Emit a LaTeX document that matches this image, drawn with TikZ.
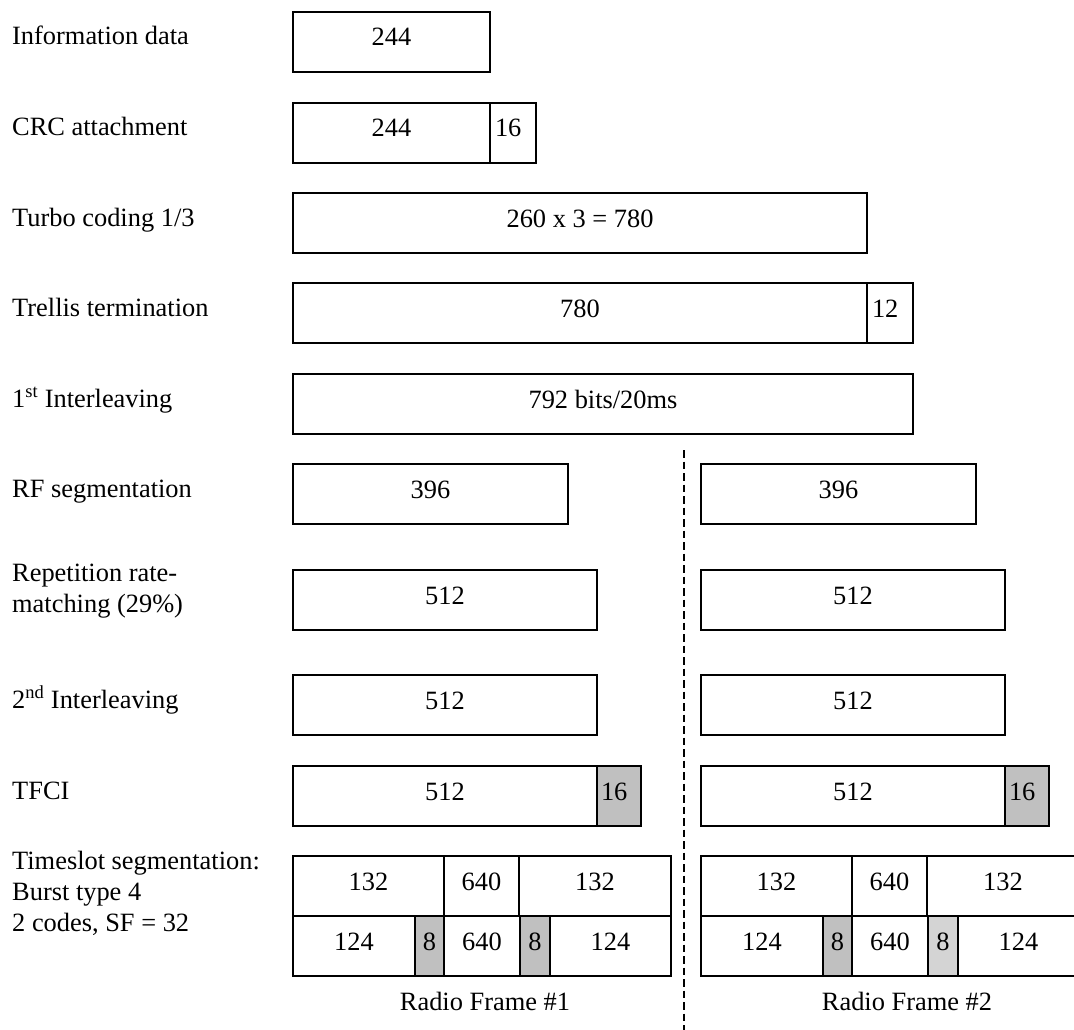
\documentclass[tikz,border=0pt]{standalone}
\usepackage{fontspec}
\setmainfont{Liberation Serif}
\usepackage{tikz}
\usetikzlibrary{positioning}
\definecolor{slotgray}{RGB}{192,192,192}
\definecolor{slotlight}{RGB}{212,212,212}

\begin{document}
\begin{tikzpicture}[
  x=1pt, y=-1pt,
  font=\fontsize{26.4}{31}\selectfont,
  lbl/.style={anchor=base west, inner sep=0pt},
  lbl2/.style={anchor=west, align=left, inner sep=0pt},
  blk/.style={draw, line width=1.8pt, rectangle, inner sep=0pt, outer sep=0pt,
    minimum height=60pt, anchor=north west, text height=18pt, text depth=10pt},
  nar/.style={text width=36pt, align=left},
  code/.style={blk, fill=slotgray},
  divider/.style={line width=1.8pt, dash pattern=on 7.5pt off 4pt}
]
\useasboundingbox (0,0) rectangle (1074,1030);
\clip (0,0) rectangle (1074,1030);

% Step labels
\node[lbl] (l-info) at (12,45)  {Information data};
\node[lbl] (l-crc)  at (12,136) {CRC attachment};
\node[lbl] (l-tc)   at (12,226) {Turbo coding 1/3};
\node[lbl] (l-tt)   at (12,316) {Trellis termination};
\node[lbl] (l-il1)  at (12,407) {1\textsuperscript{st} Interleaving};
\node[lbl] (l-rf)   at (12,497) {RF segmentation};
\node[lbl2] (l-rep) at (12,591) {Repetition rate-\\matching (29\%)};
\node[lbl] (l-il2)  at (12,708) {2\textsuperscript{nd} Interleaving};
\node[lbl] (l-tfci) at (12,799) {TFCI};
\node[lbl2] (l-ts)  at (12,893) {Timeslot segmentation:\\Burst type 4\\2 codes, SF = 32};

% Blocks before segmentation
\node[blk, minimum width=197pt] (info) at (293,12) {244};
\node[blk, minimum width=197pt] (crc) at (293,103) {244};
\node[blk, nar, minimum width=46pt, right=0pt of crc] (crcbits) {16};
\node[blk, minimum width=574pt] (tc) at (293,193) {260 x 3 = 780};
\node[blk, minimum width=574pt] (tt) at (293,283) {780};
\node[blk, nar, minimum width=46pt, right=0pt of tt] (tail) {12};
\node[blk, minimum width=620pt] (il) at (293,374) {792 bits/20ms};

% Frame border
\coordinate (divtop) at (684,450);
\coordinate (divbot) at (684,1030);
\draw[divider] (divtop) -- (divbot);

% Radio frames
\foreach \dx/\fr/\tint/\lx in {0/1/slotgray/485, 408/2/slotlight/907} {
  \node[blk, minimum width=275pt] (rf\fr) at (293+\dx,464) {396};
  \node[blk, minimum width=304pt] (rep\fr) at (293+\dx,570) {512};
  \node[blk, minimum width=304pt] (il\fr) at (293+\dx,675) {512};
  \node[blk, minimum width=304pt] (tf\fr) at (293+\dx,766) {512};
  \node[code, nar, minimum width=44pt, right=0pt of tf\fr] (tfci\fr) {16};
  % timeslots
  \node[blk, minimum width=151pt] (ta\fr) at (293+\dx,856) {132};
  \node[blk, minimum width=75pt, right=0pt of ta\fr] (tb\fr) {640};
  \node[blk, minimum width=152pt, right=0pt of tb\fr] (tc\fr) {132};
  \node[blk, minimum width=122pt] (ba\fr) at (ta\fr.south west) {124};
  \node[code, minimum width=29pt, right=0pt of ba\fr] (bb\fr) {8};
  \node[blk, minimum width=76pt, right=0pt of bb\fr] (bc\fr) {640};
  \node[code, fill=\tint, minimum width=30pt, right=0pt of bc\fr] (bd\fr) {8};
  \node[blk, minimum width=121pt, right=0pt of bd\fr] (be\fr) {124};
  \node[anchor=base] (cap\fr) at (\lx,1010) {Radio Frame \#\fr};
}
\end{tikzpicture}
\end{document}
